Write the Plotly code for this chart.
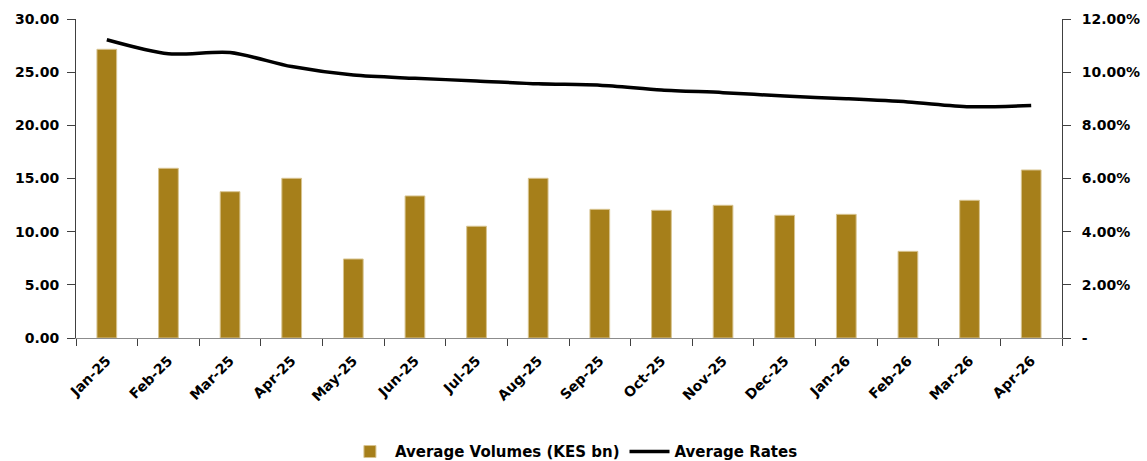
import plotly.graph_objects as go

# Monthly categories
months = ["Jan-25", "Feb-25", "Mar-25", "Apr-25", "May-25", "Jun-25", "Jul-25", "Aug-25",
          "Sep-25", "Oct-25", "Nov-25", "Dec-25", "Jan-26", "Feb-26", "Mar-26", "Apr-26"]

# Average volumes, KES bn (left axis)
avg_volumes = [27.15, 15.96, 13.76, 15.02, 7.43, 13.36, 10.51, 15.02,
               12.10, 12.01, 12.48, 11.54, 11.63, 8.15, 12.95, 15.80]

# Average rates, as fractions (right axis)
avg_rates = [0.1122, 0.1069, 0.1074, 0.1021, 0.0989, 0.0977, 0.0967, 0.0956,
             0.0951, 0.0933, 0.0923, 0.0910, 0.0900, 0.0888, 0.0870, 0.0875]

# Right-axis tick labels
rate_ticks = [0, 0.02, 0.04, 0.06, 0.08, 0.10, 0.12]
rate_ticktext = ["-", "2.00%", "4.00%", "6.00%", "8.00%", "10.00%", "12.00%"]

FONT = dict(family="DejaVu Sans", size=14, color="#000000", weight="bold")

fig = go.Figure()
fig.add_trace(go.Bar(
    x=months, y=avg_volumes, name="Average Volumes (KES bn)",
    marker=dict(color="#A67F1A", line=dict(color="#D8C490", width=1)),
    yaxis="y",
))
fig.add_trace(go.Scatter(
    x=months, y=avg_rates, name="Average Rates", mode="lines",
    line=dict(color="#000000", width=3.5, shape="spline", smoothing=0.8),
    yaxis="y2",
))

fig.update_layout(
    width=1147, height=461,
    margin=dict(l=76, r=85, t=19, b=123, autoexpand=False),
    paper_bgcolor="white", plot_bgcolor="white",
    font=FONT,
    bargap=0.68,
    showlegend=True,
    legend=dict(orientation="h", x=0.505, xanchor="center", y=-0.305, yanchor="top",
                font=dict(family="DejaVu Sans", size=15, color="#000000", weight="bold"),
                itemwidth=40, traceorder="normal"),
    xaxis=dict(
        type="category", tickangle=-45, tickson="boundaries",
        ticks="outside", ticklen=7, tickcolor="#404040",
        showline=True, linecolor="#8c8c8c", linewidth=1,
        showgrid=False, tickfont=FONT, automargin=False,
        ticklabelstandoff=8,
    ),
    yaxis=dict(
        range=[0, 30], dtick=5, tickformat=".2f",
        ticks="outside", ticklen=8, tickcolor="#404040",
        showline=True, linecolor="#404040", linewidth=1,
        showgrid=False, zeroline=False, tickfont=FONT, automargin=False,
        ticklabelstandoff=5,
    ),
    yaxis2=dict(
        range=[0, 0.12], overlaying="y", side="right",
        tickvals=rate_ticks, ticktext=rate_ticktext,
        ticks="outside", ticklen=8, tickcolor="#404040",
        showline=True, linecolor="#404040", linewidth=1,
        showgrid=False, zeroline=False, tickfont=FONT, automargin=False,
        ticklabelstandoff=8,
    ),
)

fig.write_html("out.html")
